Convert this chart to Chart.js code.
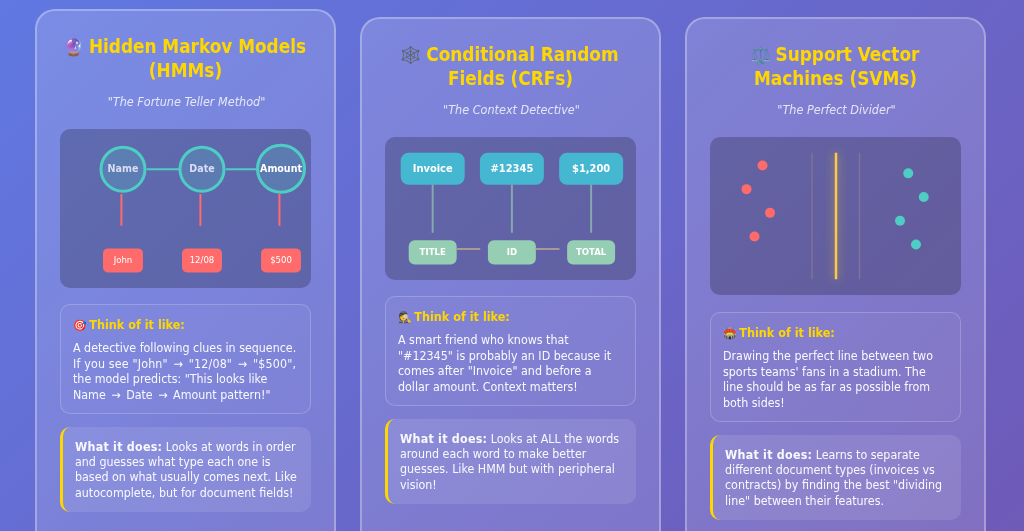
<!DOCTYPE html>
<html>
<head>
<meta charset="utf-8">
<script src="https://cdn.jsdelivr.net/npm/chart.js@4"></script>
<style>
  html, body { margin: 0; width: 1024px; height: 531px; overflow: hidden; }
  body { background: linear-gradient(135deg, #6078e2 0%, #764ba2 150%); font-family: "DejaVu Sans Condensed", "DejaVu Sans", sans-serif; color: #fff; position: relative; }
  .card { position: absolute; width: 297px; height: 640px; box-sizing: content-box; border: 2px solid rgba(255,255,255,0.3); border-radius: 20px;
    background: linear-gradient(135deg, rgba(255,255,255,0.16), rgba(255,255,255,0.13)); filter: blur(0.35px); }
  h2 { position: absolute; left: 0; width: 100%; margin: 0; text-align: center; color: #ffd700; font-size: 18.8px; line-height: 24.6px; font-weight: bold; }
  h2 span { font-size: 17px; margin-right: -3px; position: relative; left: -2px; line-height: 1; }
  .tag { position: absolute; left: 1px; width: 100%; text-align: center; font-style: italic; font-size: 12.5px; line-height: 16px; color: rgba(255,255,255,0.8); }
  .panel { position: absolute; left: 23px; width: 250.5px; background: rgba(0,0,0,0.22); border-radius: 10px; }
  .panel canvas { display: block; }
  .think { position: absolute; left: 23px; width: 248.5px; height: 108px; border: 1px solid rgba(255,255,255,0.2); border-radius: 10px; background: rgba(255,255,255,0.03); font-size: 12.35px; line-height: 15.6px; }
  .think b { position: absolute; left: 12px; top: 12px; color: #ffd700; font-size: 12.5px; white-space: nowrap; }
  .think b span { display: inline-block; width: 16.3px; font-size: 11px; }
  .think p { position: absolute; left: 12px; top: 36px; margin: 0; white-space: nowrap; opacity: 0.95; }
  .does { position: absolute; left: 23px; width: 247.5px; height: 85px; border-left: 3px solid #ffd700; border-radius: 10px; background: rgba(255,255,255,0.1); font-size: 12.35px; line-height: 15.4px; }
  .does p { position: absolute; left: 12px; top: 12.5px; margin: 0; white-space: nowrap; opacity: 0.95; }
  .does b { letter-spacing: 0.25px; }
  i.ar { font-style: normal; margin: 0 2px; }
</style>
</head>
<body>

<div class="card" style="left:35px;top:9px">
  <h2 style="top:23.5px"><span>🔮</span> Hidden Markov Models<br>(HMMs)</h2>
  <div class="tag" style="top:83px">"The Fortune Teller Method"</div>
  <div class="panel" style="top:118px;height:159px"><canvas id="chart-hmm"></canvas></div>
  <div class="think" style="top:293px"><b><span>🎯</span>Think of it like:</b><p>A detective following clues in sequence.<br><span style="letter-spacing:0.17px">If you see "John" <i class="ar">→</i> "12/08" <i class="ar">→</i> "$500",</span><br>the model predicts: "This looks like<br>Name <i class="ar">→</i> Date <i class="ar">→</i> Amount pattern!"</p></div>
  <div class="does" style="top:416px"><p><b>What it does:</b> Looks at words in order<br>and guesses what type each one is<br>based on what usually comes next. Like<br>autocomplete, but for document fields!</p></div>
</div>

<div class="card" style="left:360px;top:17px">
  <h2 style="top:23.5px"><span>🕸️</span> Conditional Random<br>Fields (CRFs)</h2>
  <div class="tag" style="top:83px">"The Context Detective"</div>
  <div class="panel" style="top:118px;height:142.7px"><canvas id="chart-crf"></canvas></div>
  <div class="think" style="top:277px"><b><span>🕵️</span>Think of it like:</b><p>A smart friend who knows that<br>"#12345" is probably an ID because it<br>comes after "Invoice" and before a<br>dollar amount. Context matters!</p></div>
  <div class="does" style="top:400px"><p><b>What it does:</b> Looks at ALL the words<br>around each word to make better<br>guesses. Like HMM but with peripheral<br>vision!</p></div>
</div>

<div class="card" style="left:685px;top:17px">
  <h2 style="top:23.5px"><span>⚖️</span> Support Vector<br>Machines (SVMs)</h2>
  <div class="tag" style="top:83px">"The Perfect Divider"</div>
  <div class="panel" style="top:118px;height:158.4px"><canvas id="chart-svm"></canvas></div>
  <div class="think" style="top:293px"><b><span>🏟️</span>Think of it like:</b><p>Drawing the perfect line between two<br>sports teams' fans in a stadium. The<br>line should be as far as possible from<br>both sides!</p></div>
  <div class="does" style="top:416px"><p><b>What it does:</b> Learns to separate<br>different document types (invoices vs<br>contracts) by finding the best "dividing<br>line" between their features.</p></div>
</div>

<script>
// ─── Data ──────────────────────────────────────────────────────────────────
const HMM_STATES = ['Name', 'Date', 'Amount'];
const HMM_WORDS = ['John', '12/08', '$500'];
const HMM_COLUMNS = [0, 1, 2];
const HMM_STATE_LEVEL = [25.3, 25.3, 25];
const HMM_LINK_START = [0.3, 1.3];
const HMM_LINK_END = [0.71, 1.7];
const HMM_EMIT_TOP = [40.9, 40.9, 40.9];
const HMM_EMIT_BOTTOM = [60.8, 60.8, 60.8];
const HMM_WORD_TOP = [75.3, 75.3, 75.3];
const HMM_WORD_BOTTOM = [90, 90, 90];

const CRF_WORDS = ['Invoice', '#12345', '$1,200'];
const CRF_TAGS = ['TITLE', 'ID', 'TOTAL'];
const CRF_COLUMNS = [0, 1, 2];
const CRF_WORD_TOP = [11.2, 11.2, 11.2];
const CRF_WORD_BOTTOM = [33.2, 33.2, 33.2];
const CRF_EDGE_BOTTOM = [66.9, 66.9, 66.9];
const CRF_TAG_TOP = [72.5, 72.5, 72.5];
const CRF_TAG_BOTTOM = [89, 89, 89];
const CRF_LINK_START = [0.3, 1.3];
const CRF_LINK_END = [0.6, 1.6];
const CRF_LINK_LEVEL = [78.3, 78.3];

const SVM_RED_F1 = [21, 14.6, 24, 17.8];
const SVM_RED_F2 = [18, 33, 48, 63];
const SVM_TEAL_F1 = [79.3, 85.5, 76, 82.4];
const SVM_TEAL_F2 = [23, 38, 53, 68];
const SVM_MARGINS = [40.8, 59.8];
const SVM_DIVIDER = 50.4;
const SVM_LINE_SPAN = [10, 90];

// ─── Colours ───────────────────────────────────────────────────────────────
const TEAL = '#4ecdc4';
const TEAL_FILL = 'rgba(78,205,196,0.2)';
const RED = '#ff6b6b';
const BLUE = '#45b7d1';
const MINT = '#96ceb4';
const GOLD = '#fbc84e';
const FONT = '"DejaVu Sans Condensed", "DejaVu Sans"';

// ─── Shared helpers ────────────────────────────────────────────────────────
const boxLabels = {
  id: 'boxLabels',
  afterDatasetsDraw(chart) {
    const { ctx } = chart;
    chart.data.datasets.forEach((ds, i) => {
      if (!ds.textLabels) return;
      chart.getDatasetMeta(i).data.forEach((el, j) => {
        const c = el.getCenterPoint();
        ctx.save();
        ctx.font = ds.textFont;
        ctx.fillStyle = Array.isArray(ds.textColor) ? ds.textColor[j] : ds.textColor;
        ctx.textAlign = 'center';
        ctx.textBaseline = 'middle';
        ctx.fillText(ds.textLabels[j], c.x, c.y);
        ctx.restore();
      });
    });
  }
};

const glow = {
  id: 'glow',
  beforeDatasetDraw(chart, args) {
    const ds = chart.data.datasets[args.index];
    if (!ds.glowColor) return;
    chart.ctx.save();
    chart.ctx.shadowColor = ds.glowColor;
    chart.ctx.shadowBlur = 10;
  },
  afterDatasetDraw(chart, args) {
    if (chart.data.datasets[args.index].glowColor) chart.ctx.restore();
  }
};

function segment(x0, y0, x1, y1, color, width) {
  return { type: 'line', data: [{ x: x0, y: y0 }, { x: x1, y: y1 }], borderColor: color, borderWidth: width, pointRadius: 0, clip: false };
}

function boxes(columns, tops, bottoms, labels, opts) {
  return {
    type: 'bar',
    data: columns.map((c, i) => ({ x: c, y: [tops[i], bottoms[i]] })),
    backgroundColor: opts.color, barThickness: opts.width, borderRadius: opts.radius, borderSkipped: false, grouped: false,
    textLabels: labels, textFont: opts.font, textColor: '#fff', clip: false
  };
}

function drawChart(id, width, height, xMin, xMax, datasets) {
  const canvas = document.getElementById(id);
  canvas.width = width;
  canvas.height = height;
  return new Chart(canvas, {
    type: 'bar',
    data: { datasets },
    options: {
      responsive: false, animation: false, maintainAspectRatio: false,
      layout: { padding: 0, autoPadding: false },
      plugins: { legend: { display: false }, tooltip: { enabled: false } },
      scales: {
        x: { type: 'linear', display: false, offset: false, min: xMin, max: xMax },
        y: { type: 'linear', display: false, min: 0, max: 100, reverse: true }
      }
    },
    plugins: [boxLabels, glow]
  });
}

// ─── HMM ───────────────────────────────────────────────────────────────────
drawChart('chart-hmm', 250, 159, -0.797, 2.367, [
  ...HMM_LINK_START.map((s, i) => segment(s, HMM_STATE_LEVEL[0], HMM_LINK_END[i], HMM_STATE_LEVEL[0], TEAL, 2)),
  ...HMM_COLUMNS.map((c, i) => segment(c - 0.02, HMM_EMIT_TOP[i], c - 0.02, HMM_EMIT_BOTTOM[i], RED, 2)),
  {
    type: 'scatter',
    data: HMM_COLUMNS.map((c, i) => ({ x: c, y: HMM_STATE_LEVEL[i] })),
    pointRadius: [22, 22, 23.5], borderWidth: 3, pointBorderColor: TEAL, pointBackgroundColor: TEAL_FILL, clip: false,
    textLabels: HMM_STATES, textFont: `bold 10.6px ${FONT}`, textColor: ['#dcdcf6', '#dcdcf6', '#fff']
  },
  boxes(HMM_COLUMNS, HMM_WORD_TOP, HMM_WORD_BOTTOM, HMM_WORDS, { color: RED, width: 39.3, radius: 5, font: `9.5px ${FONT}` })
]);

// ─── CRF ───────────────────────────────────────────────────────────────────
drawChart('chart-crf', 250, 143, -0.602, 2.554, [
  ...CRF_COLUMNS.map((c, i) => segment(c, CRF_WORD_BOTTOM[i], c, CRF_EDGE_BOTTOM[i], '#84a8ae', 2)),
  ...CRF_LINK_START.map((s, i) => segment(s, CRF_LINK_LEVEL[i], CRF_LINK_END[i], CRF_LINK_LEVEL[i], '#aa9a96', 2)),
  boxes(CRF_COLUMNS, CRF_WORD_TOP, CRF_WORD_BOTTOM, CRF_WORDS, { color: BLUE, width: 63.3, radius: 8, font: `bold 11px ${FONT}` }),
  boxes(CRF_COLUMNS, CRF_TAG_TOP, CRF_TAG_BOTTOM, CRF_TAGS, { color: MINT, width: 47.3, radius: 6, font: `bold 9.5px ${FONT}` })
]);

// ─── SVM ───────────────────────────────────────────────────────────────────
drawChart('chart-svm', 250, 158, 0, 100, [
  ...SVM_MARGINS.map(m => segment(m, SVM_LINE_SPAN[0], m, SVM_LINE_SPAN[1], '#7f7298', 1.5)),
  { ...segment(SVM_DIVIDER, SVM_LINE_SPAN[0], SVM_DIVIDER, SVM_LINE_SPAN[1], GOLD, 2.5), glowColor: 'rgba(255,215,0,0.6)' },
  { type: 'scatter', data: SVM_RED_F1.map((x, i) => ({ x, y: SVM_RED_F2[i] })), pointRadius: 5, borderWidth: 0, pointBackgroundColor: RED },
  { type: 'scatter', data: SVM_TEAL_F1.map((x, i) => ({ x, y: SVM_TEAL_F2[i] })), pointRadius: 5, borderWidth: 0, pointBackgroundColor: TEAL }
]);
</script>
</body>
</html>
